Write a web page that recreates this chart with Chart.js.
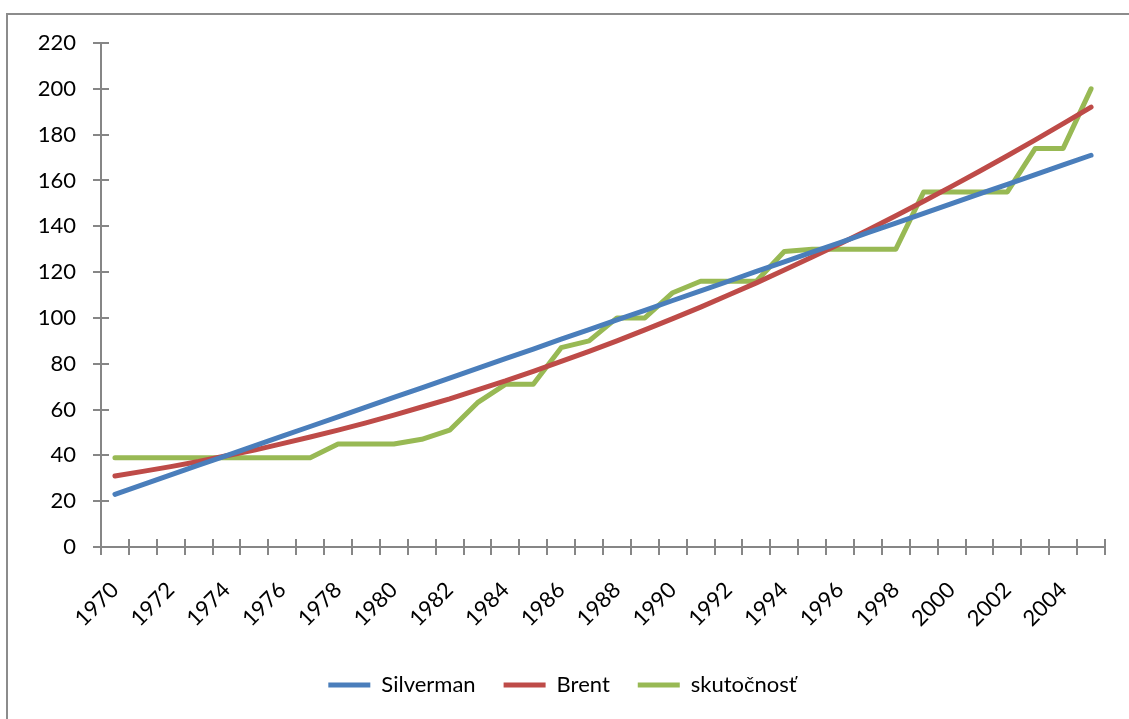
<!DOCTYPE html>
<html>
<head>
<meta charset="utf-8">
<script src="https://cdn.jsdelivr.net/npm/chart.js@4.4.1/dist/chart.umd.min.js"></script>
<style>
  html, body { margin: 0; padding: 0; background: #fff; overflow: hidden; }
  #frame { position: absolute; left: 6px; top: 13px; width: 1300px; height: 900px;
           border: 2px solid #8c8c8c; box-sizing: border-box; }
  #wrap { position: absolute; left: 0; top: 0; width: 1129px; height: 719px; }
</style>
</head>
<body>
<div id="frame"></div>
<div id="wrap"><canvas id="c" width="1129" height="719"></canvas></div>
<script>
// Years on the category axis
const years = [
  '1970','1971','1972','1973','1974','1975','1976','1977','1978','1979',
  '1980','1981','1982','1983','1984','1985','1986','1987','1988','1989',
  '1990','1991','1992','1993','1994','1995','1996','1997','1998','1999',
  '2000','2001','2002','2003','2004','2005'
];

// Silverman estimate
const silverman = [
  23.0, 27.2, 31.5, 35.7, 39.9, 44.1, 48.4, 52.6, 56.8, 61.1,
  65.3, 69.5, 73.7, 78.0, 82.2, 86.4, 90.7, 94.9, 99.1, 103.3,
  107.6, 111.8, 116.0, 120.3, 124.5, 128.7, 132.9, 137.2, 141.4, 145.6,
  149.9, 154.1, 158.3, 162.5, 166.8, 171.0
];

// Brent estimate
const brent = [
  31.0, 33.0, 35.1, 37.3, 39.8, 42.3, 45.1, 48.0, 51.0, 54.2,
  57.6, 61.1, 64.7, 68.6, 72.5, 76.7, 81.0, 85.4, 90.0, 94.8,
  99.7, 104.7, 110.0, 115.3, 120.9, 126.6, 132.4, 138.4, 144.6, 150.9,
  157.4, 164.0, 170.8, 177.7, 184.8, 192.0
];

// Actual values (skutočnosť)
const actual = [
  39, 39, 39, 39, 39, 39, 39, 39, 45, 45,
  45, 47, 51, 63, 71, 71, 87, 90, 100, 100,
  111, 116, 116, 116, 129, 130, 130, 130, 130, 155,
  155, 155, 155, 174, 174, 200
];

const yTicks = [0, 20, 40, 60, 80, 100, 120, 140, 160, 180, 200, 220];

const axisColor = '#868686';
const font = { family: 'Lato, "Open Sans", sans-serif', size: 22 };

// Short tick marks that cross both axes
const crossTicks = {
  id: 'crossTicks',
  afterDraw(chart) {
    const ctx = chart.ctx;
    const x = chart.scales.x, y = chart.scales.y;
    const len = 8;
    ctx.save();
    ctx.strokeStyle = axisColor;
    ctx.lineWidth = 2;
    ctx.beginPath();
    const n = years.length;
    const step = (x.right - x.left) / n;
    for (let i = 0; i <= n; i++) {
      const px = Math.round(x.left + i * step);
      ctx.moveTo(px, y.bottom - len);
      ctx.lineTo(px, y.bottom + len);
    }
    y.ticks.forEach(t => {
      const py = Math.round(y.getPixelForValue(t.value));
      ctx.moveTo(x.left - len, py);
      ctx.lineTo(x.left + len, py);
    });
    ctx.stroke();
    ctx.restore();
  }
};

const seriesStyle = (color) => ({
  borderColor: color,
  backgroundColor: color,
  borderWidth: 5,
  borderCapStyle: 'round',
  borderJoinStyle: 'round',
  pointRadius: 0,
  pointHoverRadius: 0,
  pointStyle: 'line',
  tension: 0,
  fill: false
});

new Chart(document.getElementById('c'), {
  type: 'line',
  data: {
    labels: years,
    datasets: [
      { label: 'Silverman', data: silverman, ...seriesStyle('#4A7EBB') },
      { label: 'Brent', data: brent, ...seriesStyle('#BE4B48') },
      { label: 'skutočnosť', data: actual, ...seriesStyle('#98B954') }
    ]
  },
  options: {
    responsive: false,
    animation: false,
    layout: { padding: { left: 20, right: 24, top: 43, bottom: 13 } },
    plugins: {
      tooltip: { enabled: false },
      legend: {
        position: 'bottom',
        labels: {
          color: '#000',
          font: font,
          usePointStyle: true,
          pointStyleWidth: 42,
          boxHeight: 4,
          padding: 28
        }
      }
    },
    scales: {
      x: {
        type: 'category',
        offset: true,
        afterFit: s => { s.height = 99; s.paddingLeft = 0; s.paddingRight = 0; },
        grid: { display: false, drawTicks: false, offset: true },
        border: { display: true, color: axisColor, width: 2 },
        ticks: {
          autoSkip: false,
          maxRotation: 45,
          minRotation: 45,
          padding: 30,
          color: '#000',
          font: font,
          callback: (v, i) => (i % 2 === 0 ? years[i] : '')
        }
      },
      y: {
        min: 0,
        max: 220,
        afterFit: s => { s.width = 81; },
        afterBuildTicks: s => { s.ticks = yTicks.map(v => ({ value: v })); },
        grid: { display: false, drawTicks: false },
        border: { display: true, color: axisColor, width: 2 },
        ticks: { padding: 25, color: '#000', font: font }
      }
    }
  },
  plugins: [crossTicks]
});
</script>
</body>
</html>
